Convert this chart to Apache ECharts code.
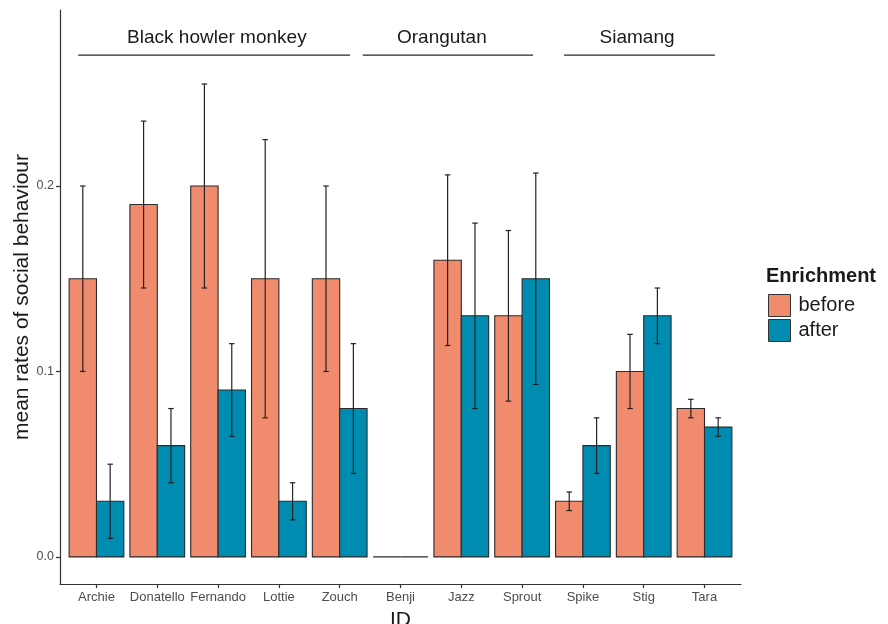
<!DOCTYPE html>
<html>
<head>
<meta charset="utf-8">
<script src="https://cdn.jsdelivr.net/npm/echarts@6/dist/echarts.min.js"></script>
<style>html,body{margin:0;padding:0;background:#fff}#main{width:888px;height:624px}</style>
</head>
<body>
<div id="main"></div>
<script>
const categories = ['Archie','Donatello','Fernando','Lottie','Zouch','Benji','Jazz','Sprout','Spike','Stig','Tara'];
const beforeVals = [0.15, 0.19, 0.20, 0.15, 0.15, 0, 0.16, 0.13, 0.03, 0.10, 0.08];
const beforeLo   = [0.10, 0.145, 0.145, 0.075, 0.10, 0, 0.114, 0.084, 0.025, 0.08, 0.075];
const beforeHi   = [0.20, 0.235, 0.255, 0.225, 0.20, 0, 0.206, 0.176, 0.035, 0.12, 0.085];
const afterVals  = [0.03, 0.06, 0.09, 0.03, 0.08, 0, 0.13, 0.15, 0.06, 0.13, 0.07];
const afterLo    = [0.01, 0.04, 0.065, 0.02, 0.045, 0, 0.08, 0.093, 0.045, 0.115, 0.065];
const afterHi    = [0.05, 0.08, 0.115, 0.04, 0.115, 0, 0.18, 0.207, 0.075, 0.145, 0.075];
const groupNames = ['Black howler monkey','Orangutan','Siamang'];
const groupStart = [0.7, 5.38, 8.69];
const groupEnd   = [5.17, 8.18, 11.17];
const groupLabelX = [2.98, 6.68, 9.89];
const yTicks = [0, 0.1, 0.2];

const FONT = '"Liberation Sans", Arial, sans-serif';
const COL_BEFORE = '#F08B6E';
const COL_AFTER = '#008CB1';
const DODGE = 0.45;

function mkData(vals, lo, hi) {
  return categories.map((c, i) => [i + 1, vals[i], lo[i], hi[i]]);
}
function makeRender(side) {
  return function (params, api) {
    const x = api.value(0), v = api.value(1), lo = api.value(2), hi = api.value(3);
    const x0 = side < 0 ? x - DODGE : x;
    const x1 = x0 + DODGE;
    const pTop = api.coord([x0, v]);
    const pBot = api.coord([x1, 0]);
    const children = [{
      type: 'rect',
      shape: { x: pTop[0], y: pTop[1], width: pBot[0] - pTop[0], height: pBot[1] - pTop[1] },
      style: { fill: api.visual('color'), stroke: '#2b2b2b', lineWidth: 1.1 }
    }];
    if (hi > lo) {
      const xc = x0 + DODGE / 2;
      const a = api.coord([xc, lo]), b = api.coord([xc, hi]);
      const cl = api.coord([xc - 0.045, lo]), cr = api.coord([xc + 0.045, hi]);
      const st = { stroke: '#222222', lineWidth: 1.2 };
      children.push({ type: 'line', shape: { x1: a[0], y1: a[1], x2: b[0], y2: b[1] }, style: st });
      children.push({ type: 'line', shape: { x1: cl[0], y1: a[1], x2: cr[0], y2: a[1] }, style: st });
      children.push({ type: 'line', shape: { x1: cl[0], y1: b[1], x2: cr[0], y2: b[1] }, style: st });
    }
    return { type: 'group', children };
  };
}

const chart = echarts.init(document.getElementById('main'), null, { renderer: 'canvas' });
chart.setOption({
  animation: false,
  backgroundColor: '#ffffff',
  textStyle: { fontFamily: FONT },
  title: {
    text: 'Enrichment', left: 761, top: 261,
    textStyle: { fontFamily: FONT, fontSize: 20, fontWeight: 'bold', color: '#1a1a1a' }
  },
  legend: {
    data: ['before', 'after'],
    orient: 'vertical', left: 763, top: 289,
    itemWidth: 22, itemHeight: 22, itemGap: 2,
    icon: 'rect',
    itemStyle: { borderColor: '#333333', borderWidth: 1 },
    textStyle: { fontFamily: FONT, fontSize: 20, color: '#1a1a1a', padding: [0, 0, 0, 3] }
  },
  grid: { left: 60, right: 147, top: 10, bottom: 40, containLabel: false, outerBoundsMode: 'none' },
  xAxis: {
    type: 'value', min: 0.4, max: 11.6,
    name: 'ID', nameLocation: 'middle', nameGap: 26, nameMoveOverlap: false,
    nameTextStyle: { fontFamily: FONT, fontSize: 21, color: '#1a1a1a', verticalAlign: 'top' },
    axisLine: { show: true, onZero: false, lineStyle: { color: '#333333', width: 1.2 } },
    axisTick: { show: true, length: 4, customValues: categories.map((c, i) => i + 1), lineStyle: { color: '#333333', width: 1.2 } },
    axisLabel: {
      customValues: categories.map((c, i) => i + 1),
      formatter: v => categories[Math.round(v) - 1] || '',
      fontFamily: FONT, fontSize: 13, color: '#4d4d4d', margin: 7
    },
    splitLine: { show: false }
  },
  yAxis: {
    type: 'value', min: -0.0146, max: 0.2949,
    name: 'mean rates of social behaviour', nameLocation: 'middle', nameGap: 27, nameMoveOverlap: false,
    nameTextStyle: { fontFamily: FONT, fontSize: 21, color: '#1a1a1a' },
    axisLine: { show: true, onZero: false, lineStyle: { color: '#333333', width: 1.2 } },
    axisTick: { show: true, length: 4, customValues: yTicks, lineStyle: { color: '#333333', width: 1.2 } },
    axisLabel: {
      customValues: yTicks,
      formatter: v => v.toFixed(1),
      fontFamily: FONT, fontSize: 12.5, color: '#4d4d4d', margin: 6
    },
    splitLine: { show: false }
  },
  series: [
    {
      name: 'before', type: 'custom', itemStyle: { color: COL_BEFORE },
      renderItem: makeRender(-1), data: mkData(beforeVals, beforeLo, beforeHi),
      encode: { x: 0, y: 1 }, clip: false
    },
    {
      name: 'after', type: 'custom', itemStyle: { color: COL_AFTER },
      renderItem: makeRender(1), data: mkData(afterVals, afterLo, afterHi),
      encode: { x: 0, y: 1 }, clip: false
    },
    {
      name: 'groups', type: 'custom', clip: false, silent: true,
      data: groupNames.map((g, i) => [groupStart[i], groupEnd[i], groupLabelX[i]]),
      encode: { x: [0, 1] },
      renderItem: function (params, api) {
        const i = params.dataIndex;
        const a = api.coord([api.value(0), 0.2706]);
        const b = api.coord([api.value(1), 0.2706]);
        const t = api.coord([api.value(2), 0.2798]);
        return {
          type: 'group', children: [
            { type: 'line', shape: { x1: a[0], y1: a[1], x2: b[0], y2: b[1] }, style: { stroke: '#262626', lineWidth: 1.2 } },
            { type: 'text', x: t[0], y: t[1], style: { text: groupNames[i], fontFamily: FONT, fontSize: 19, fill: '#1a1a1a', align: 'center', verticalAlign: 'middle' } }
          ]
        };
      }
    }
  ]
});
</script>
</body>
</html>
